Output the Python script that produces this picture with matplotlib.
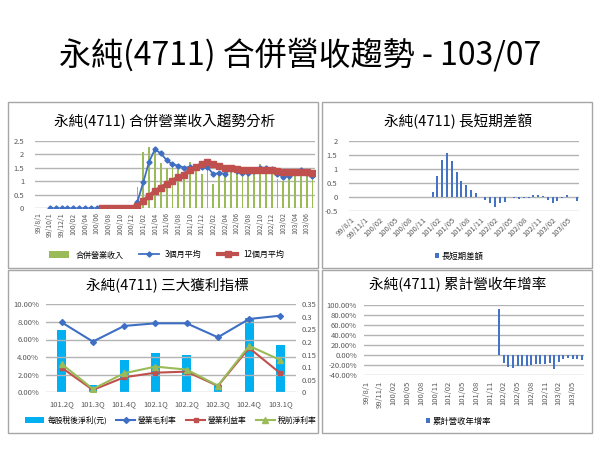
import numpy as np
import matplotlib
matplotlib.use("Agg")
import matplotlib.pyplot as plt
from matplotlib.patches import Rectangle
from matplotlib.ticker import PercentFormatter, FuncFormatter

plt.rcParams['font.family'] = ['Noto Sans CJK TC', 'DejaVu Sans']
plt.rcParams['axes.unicode_minus'] = False

# ---- data ----
months = (["99/8/1", "99/9/1", "99/10/1", "99/11/1", "99/12/1"]
          + [f"{y}/{m:02d}" for y in (100, 101, 102) for m in range(1, 13)]
          + [f"103/{m:02d}" for m in range(1, 8)])

# monthly revenue (億), 99/08 .. 103/07
revenue = [0, 0, 0, 0, 0, 0, 0, 0, 0, 0, 0, 0, 0, 0, 0, 0, 0,
           0.80, 2.09, 2.28, 2.15, 1.68, 1.50, 1.62, 1.55, 1.15, 1.72, 1.42, 1.28,
           1.60, 0.90, 1.35, 1.30, 1.45, 1.28, 1.30, 1.35, 1.35, 1.63, 1.48, 1.45,
           1.10, 1.00, 1.25, 1.35, 1.45, 1.30, 1.10]
ma3 = [None, None, 0, 0, 0, 0, 0, 0, 0, 0, 0, 0, 0, 0, 0, 0, 0,
       0.25, 0.97, 1.73, 2.18, 2.03, 1.78, 1.62, 1.58, 1.50, 1.53, 1.53, 1.52,
       1.51, 1.27, 1.30, 1.28, 1.45, 1.38, 1.32, 1.32, 1.38, 1.50, 1.50, 1.45,
       1.28, 1.15, 1.20, 1.35, 1.42, 1.30, 1.18]
ma12 = [None, None, None, None, None, None, None, None, None, None, None,
        0, 0, 0, 0, 0, 0,
        0.10, 0.27, 0.45, 0.63, 0.76, 0.89, 1.02, 1.14, 1.25, 1.40, 1.52, 1.62,
        1.70, 1.62, 1.56, 1.50, 1.48, 1.46, 1.43, 1.42, 1.42, 1.43, 1.43, 1.42,
        1.38, 1.35, 1.35, 1.35, 1.34, 1.33, 1.31]
diff = [None] * 17 + [
    0.19, 0.73, 1.30, 1.57, 1.29, 0.89, 0.58, 0.43, 0.24, 0.14, 0.01, -0.10,
    -0.20, -0.36, -0.21, -0.18, 0.00, -0.04, -0.06, -0.05, -0.03, 0.08, 0.08, 0.05,
    -0.10, -0.21, -0.15, -0.04, 0.07, -0.01, -0.13]
yoy = [None] * 29 + [
    91, -15, -23, -25, -22, -21, -21, -19, -18, -18, -17, -16,
    -27, -13, -8, -6, -7, -7, -9]

quarters = ["101.2Q", "101.3Q", "101.4Q", "102.1Q", "102.2Q", "102.3Q", "102.4Q", "103.1Q"]
eps = [0.247, 0.029, 0.129, 0.158, 0.147, 0.030, 0.296, 0.188]
gross = [7.95, 5.76, 7.54, 7.84, 7.84, 6.25, 8.33, 8.71]
op_margin = [2.80, 0.27, 1.70, 2.23, 2.35, 0.72, 5.04, 2.16]
pretax = [3.22, 0.38, 2.16, 2.92, 2.58, 0.76, 5.27, 3.67]

ma3 = np.array(ma3, dtype=float)
ma12 = np.array(ma12, dtype=float)
diff = np.array(diff, dtype=float)
yoy = np.array(yoy, dtype=float)

W, H = 600, 450
fig = plt.figure(figsize=(6, 4.5), dpi=100)
GRAY = '#595959'
BLUE = '#4472c4'


def add_ax(x0, y0, x1, y1):
    return fig.add_axes([x0 / W, 1 - y1 / H, (x1 - x0) / W, (y1 - y0) / H])


def frame(x0, y0, x1, y1):
    fig.add_artist(Rectangle((x0 / W, 1 - y1 / H), (x1 - x0) / W, (y1 - y0) / H,
                             transform=fig.transFigure, fill=False,
                             ec='#a6a6a6', lw=1.0))


def style(ax):
    for s in ax.spines.values():
        s.set_visible(False)
    ax.tick_params(length=0, labelsize=5.5, colors=GRAY)
    ax.grid(axis='y', color='#b3b3b3', lw=1.0)
    ax.set_axisbelow(True)


fig.text(300 / W, 1 - 55 / H, "永純(4711) 合併營收趨勢 - 103/07",
         ha='center', va='center', fontsize=23)

frame(8, 102, 318, 268)
frame(322, 102, 592, 268)
frame(8, 270, 318, 433)
frame(322, 270, 592, 433)

x = np.arange(len(months))
gfmt = FuncFormatter(lambda v, p: f"{v:g}")

# ---- panel 1: revenue trend ----
fig.text(165 / W, 1 - 122 / H, "永純(4711) 合併營業收入趨勢分析",
         ha='center', va='center', fontsize=10.5, fontweight='medium')
ax1 = add_ax(35.4, 140.7, 315.4, 208.3)
style(ax1)
bars1 = ax1.bar(x, revenue, width=0.3, color='#9bbb59', label='合併營業收入', zorder=2)
line3, = ax1.plot(x, ma3, color='#3f6fc4', lw=1.3, marker='D', ms=2.6,
                  label='3個月平均', zorder=3)
line12, = ax1.plot(x, ma12, color='#c0504d', lw=3, marker='s', ms=4.3,
                   label='12個月平均', zorder=4)
ax1.set_xlim(-0.5, 47.5)
ax1.set_ylim(0, 2.5)
ax1.set_yticks(np.arange(0, 2.51, 0.5))
ax1.yaxis.set_major_formatter(gfmt)
ax1.set_xticks(x[::2])
ax1.set_xticklabels(months[::2], rotation=90, fontsize=5)
ax1.tick_params(axis='y', pad=8)
ax1.tick_params(axis='x', pad=3)
ax1.legend([bars1, line3, line12], ['合併營業收入', '3個月平均', '12個月平均'],
           loc='center', bbox_to_anchor=(0.47, -0.69), ncol=3, frameon=False,
           fontsize=5.8, handlelength=2.4, handleheight=0.9, columnspacing=2.0)

# ---- panel 2: long/short difference ----
fig.text(458 / W, 1 - 121 / H, "永純(4711) 長短期差額",
         ha='center', va='center', fontsize=10.5, fontweight='medium')
ax2 = add_ax(348.6, 140.7, 579, 211)
style(ax2)
ax2.bar(x, diff, width=0.45, color=BLUE, label='長短期差額')
ax2.set_xlim(-0.5, 47.5)
ax2.set_ylim(-0.5, 2)
ax2.set_yticks(np.arange(-0.5, 2.01, 0.5))
ax2.yaxis.set_major_formatter(gfmt)
ax2.set_xticks(x[::3])
ax2.set_xticklabels(months[::3], rotation=45, ha='right',
                    rotation_mode='anchor', fontsize=5.5)
ax2.tick_params(axis='y', pad=8)
ax2.legend(loc='center', bbox_to_anchor=(0.48, -0.64), frameon=False,
           fontsize=6, handlelength=0.5, handleheight=0.6, handletextpad=0.3)

# ---- panel 3: profit indicators ----
fig.text(167 / W, 1 - 285 / H, "永純(4711) 三大獲利指標",
         ha='center', va='center', fontsize=10.5, fontweight='medium')
ax3 = add_ax(46, 304.3, 296, 392.3)
ax3r = ax3.twinx()
style(ax3)
for s in ax3r.spines.values():
    s.set_visible(False)
ax3r.tick_params(length=0, labelsize=5.5, colors=GRAY, pad=4)
q = np.arange(len(quarters))
ax3r.bar(q, eps, width=0.28, color='#00b0f0', label='每股稅後淨利(元)')
ax3r.set_ylim(0, 0.35)
ax3r.set_yticks(np.arange(0, 0.351, 0.05))
ax3r.yaxis.set_major_formatter(gfmt)
ax3.plot(q, gross, color='#3f6fc4', lw=1.5, marker='D', ms=3, label='營業毛利率')
ax3.plot(q, op_margin, color='#c0504d', lw=1.5, marker='s', ms=3.5, label='營業利益率')
ax3.plot(q, pretax, color='#9bbb59', lw=1.5, marker='^', ms=4, label='稅前淨利率')
ax3.set_zorder(ax3r.get_zorder() + 1)
ax3.patch.set_visible(False)
ax3.set_xlim(-0.5, 7.5)
ax3.set_ylim(0, 10)
ax3.set_yticks(np.arange(0, 10.1, 2))
ax3.yaxis.set_major_formatter(PercentFormatter(100, decimals=2))
ax3.set_xticks(q)
ax3.set_xticklabels(quarters)
ax3.tick_params(axis='y', pad=5)
ax3.tick_params(axis='x', pad=6)
h1, l1 = ax3r.get_legend_handles_labels()
h2, l2 = ax3.get_legend_handles_labels()
ax3.legend(h1 + h2, l1 + l2, loc='center', bbox_to_anchor=(0.5, -0.32), ncol=4,
           frameon=False, fontsize=5.6, handlelength=2.4, handleheight=0.7,
           columnspacing=1.2, handletextpad=0.4)

# ---- panel 4: cumulative YoY ----
fig.text(458 / W, 1 - 285 / H, "永純(4711) 累計營收年增率",
         ha='center', va='center', fontsize=10.5, fontweight='medium')
ax4 = add_ax(364, 304.7, 584, 375.3)
style(ax4)
ax4.bar(x, yoy, width=0.45, color=BLUE, label='累計營收年增率')
ax4.set_xlim(-0.5, 47.5)
ax4.set_ylim(-40, 100)
ax4.set_yticks(np.arange(-40, 101, 20))
ax4.yaxis.set_major_formatter(PercentFormatter(100, decimals=2))
ax4.set_xticks(x[::3])
ax4.set_xticklabels(months[::3], rotation=90, fontsize=5.5)
ax4.tick_params(axis='y', pad=5)
ax4.tick_params(axis='x', pad=4)
ax4.legend(loc='center', bbox_to_anchor=(0.43, -0.65), frameon=False,
           fontsize=6, handlelength=0.5, handleheight=0.6, handletextpad=0.3)

fig.savefig('out.png', dpi=100, facecolor='white')
